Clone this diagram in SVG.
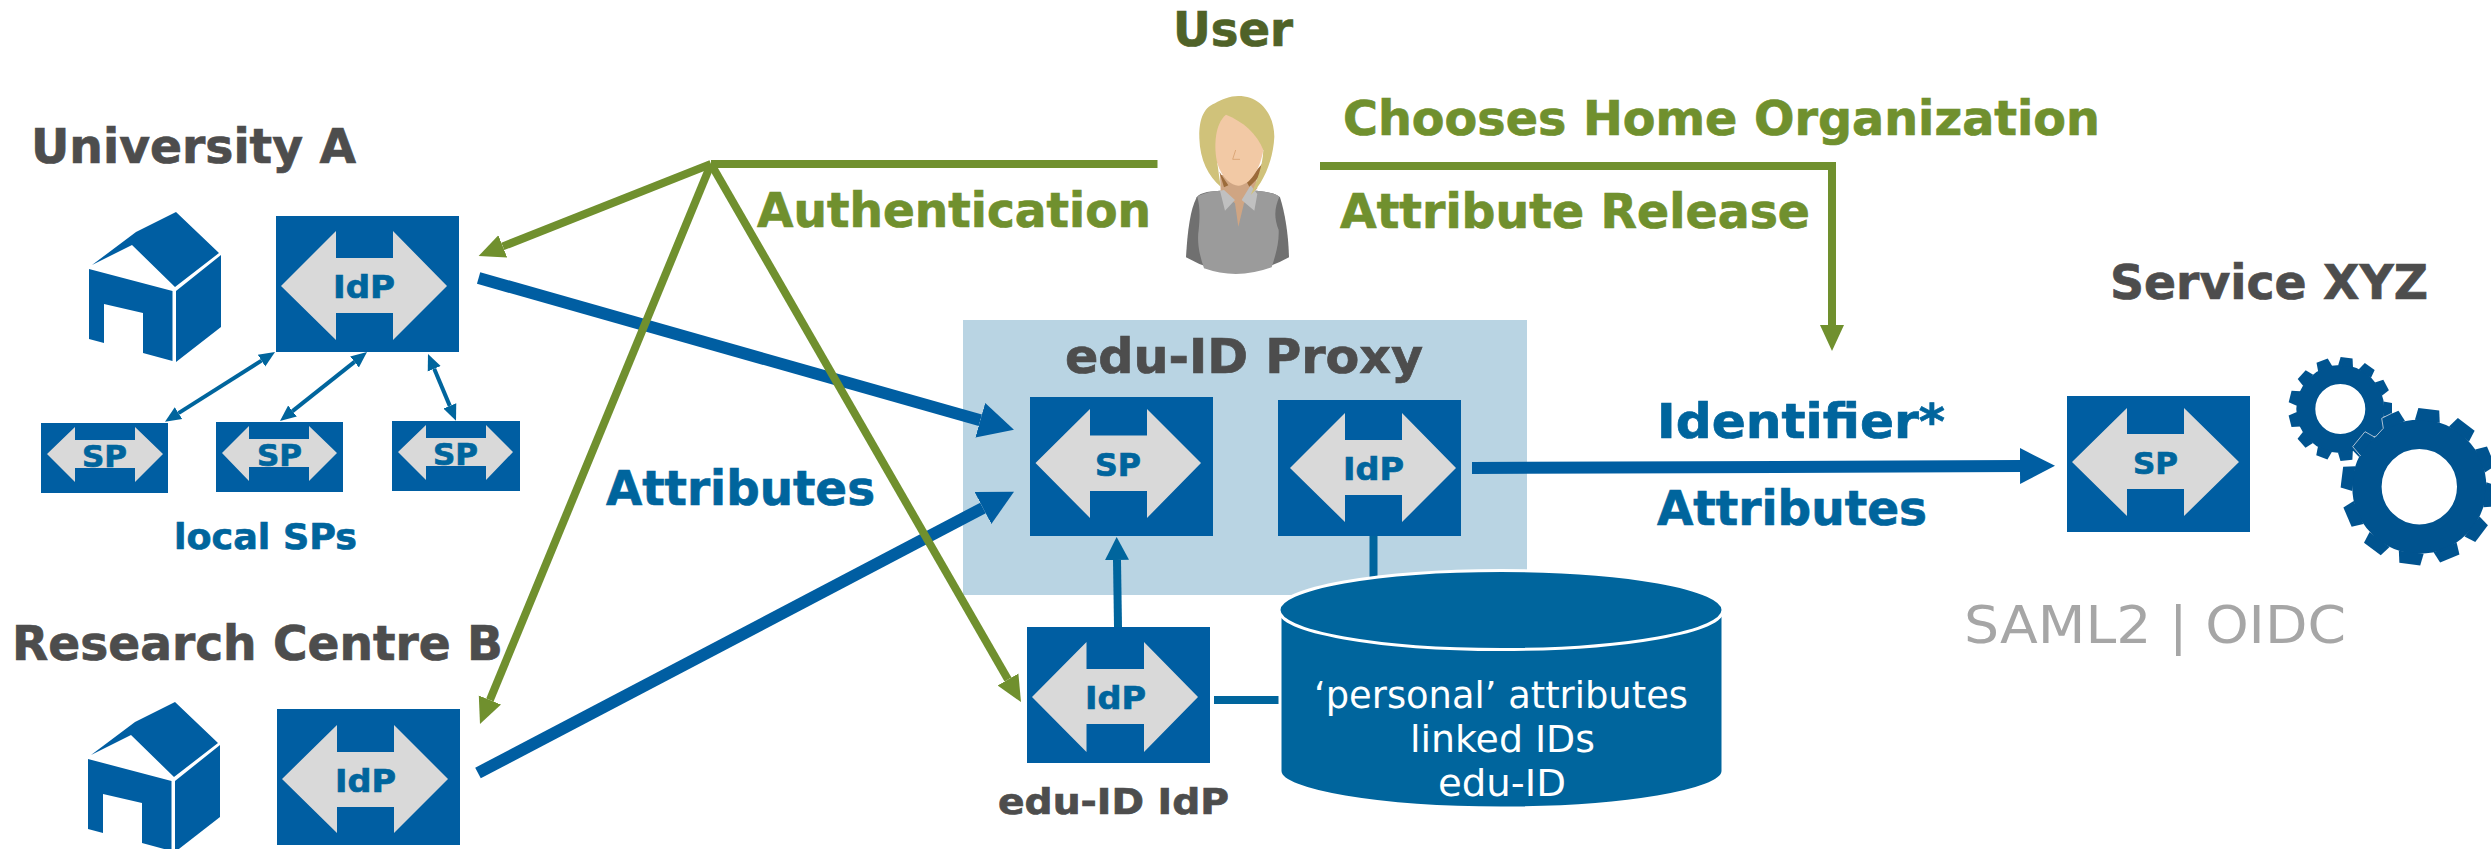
<svg xmlns="http://www.w3.org/2000/svg" width="2491" height="849" viewBox="0 0 2491 849">
<style>
text{font-family:"DejaVu Sans","Liberation Sans",sans-serif;font-weight:700;stroke-width:.7}
.box{fill:#005ea2}
.arr{fill:#d9d9d9}
.lab{fill:#00659d;stroke:#00659d}
.dark{fill:#4d4d4d;stroke:#4d4d4d;font-size:48px}
.green{fill:#70902e;stroke:#70902e;font-size:48px}
.blue{fill:#00659d;stroke:#00659d;font-size:48px}
.cyl{fill:#fff;font-weight:400;font-size:38px}
.g{stroke:#70902e;stroke-width:8;fill:none}
.b{stroke:#005ea2;stroke-width:12;fill:none}
.s{stroke:#00659d;stroke-width:4;fill:none}
.m{stroke:#00659d;stroke-width:8;fill:none}
.gear{fill:none;stroke:#00538f}
.tooth{fill:#00538f}
</style>
<defs>
<marker id="ag" markerUnits="userSpaceOnUse" markerWidth="30" markerHeight="30" refX="0" refY="15" orient="auto"><path d="M0,3L26,15L0,27z" fill="#70902e"/></marker>
<marker id="ab" markerUnits="userSpaceOnUse" markerWidth="40" markerHeight="40" refX="0" refY="20" orient="auto"><path d="M0,2L35,20L0,38z" fill="#005ea2"/></marker>
<marker id="am" markerUnits="userSpaceOnUse" markerWidth="26" markerHeight="26" refX="0" refY="13" orient="auto"><path d="M0,1L23,13L0,25z" fill="#00659d"/></marker>
<marker id="as" markerUnits="userSpaceOnUse" markerWidth="18" markerHeight="18" refX="0" refY="9" orient="auto-start-reverse"><path d="M0,2L16,9L0,16z" fill="#00659d"/></marker>
<g id="house" fill="#005ea2">
<path d="M92,265L136,232L176,212L219,253L175,287L132,245z"/>
<path d="M89,269L172.500,291L172.500,361L143,353V313L104,304V343L89,339z"/>
<path d="M176,291L221,255V327L176,362z"/>
</g>
<path id="t1" class="tooth" d="M-7.500,-43L-6,-51.700H6L7.500,-43z"/>
<path id="t2" class="tooth" d="M-12.500,-66L-10.500,-78H10.500L12.500,-66z"/>
</defs>

<rect id="proxy-bg" x="963" y="320" width="564" height="275" fill="#b9d4e3"/>
<text class="dark" x="1065" y="373" textLength="358" lengthAdjust="spacingAndGlyphs">edu-ID Proxy</text>

<g id="connectors">
<path class="b" d="M478.600,278L980.300,420.300" marker-end="url(#ab)"/>
<path class="b" d="M478,773L983,508" marker-end="url(#ab)"/>
<path class="b" d="M1472,468L2020,466" marker-end="url(#ab)"/>
<path class="g" d="M711,164H1157.500"/>
<path class="g" d="M1320,166H1832V325" marker-end="url(#ag)"/>
<path class="g" d="M711,164L502.800,246.400" marker-end="url(#ag)"/>
<path class="g" d="M711,164L489.900,700" marker-end="url(#ag)"/>
<path class="g" d="M711,164L1008,679.500" marker-end="url(#ag)"/>
<path class="m" d="M1118,627L1117,560" marker-end="url(#am)"/>
<path class="m" d="M1373.500,536V580"/>
<path class="m" d="M1214,700H1285"/>
<path class="s" d="M261.500,360.600L178.500,413.100" marker-start="url(#as)" marker-end="url(#as)"/>
<path class="s" d="M354.500,361.900L292.500,411.100" marker-start="url(#as)" marker-end="url(#as)"/>
<path class="s" d="M434.200,368.800L449.800,405.900" marker-start="url(#as)" marker-end="url(#as)"/>
</g>

<g id="university-a">
<text class="dark" x="31" y="163" textLength="325" lengthAdjust="spacingAndGlyphs">University A</text>
<use href="#house"/>
<rect class="box" x="276" y="216" width="183" height="136"/>
<path class="arr" d="M281,286L336,231V258H393V231L447,286L393,340V313H336V340z"/>
<text class="lab" x="333" y="298" font-size="32" textLength="62" lengthAdjust="spacingAndGlyphs">IdP</text>
</g>
<g id="local-sp-1">
<rect class="box" x="41" y="423" width="127" height="70"/>
<path class="arr" d="M47,454L75,427V440H135V427L163,454L135,482V468H75V482z"/>
<text class="lab" x="82" y="467" font-size="31" textLength="45" lengthAdjust="spacingAndGlyphs">SP</text>
</g>
<g id="local-sp-2">
<rect class="box" x="216" y="422" width="127" height="70"/>
<path class="arr" d="M222,453L249,426V439H309V426L337,453L309,481V467H249V481z"/>
<text class="lab" x="257" y="466" font-size="31" textLength="45" lengthAdjust="spacingAndGlyphs">SP</text>
</g>
<g id="local-sp-3">
<rect class="box" x="392" y="421" width="128" height="70"/>
<path class="arr" d="M398,452L426,425V438H486V425L513,452L486,480V466H426V480z"/>
<text class="lab" x="433" y="465" font-size="31" textLength="45" lengthAdjust="spacingAndGlyphs">SP</text>
</g>
<text class="lab" x="174" y="549" font-size="36" textLength="183" lengthAdjust="spacingAndGlyphs">local SPs</text>

<g id="research-centre-b">
<text class="dark" x="12" y="660" textLength="491" lengthAdjust="spacingAndGlyphs">Research Centre B</text>
<use href="#house" transform="translate(-1,490)"/>
<rect class="box" x="277" y="709" width="183" height="136"/>
<path class="arr" d="M282,779L337,725V752H394V725L448,779L394,833V807H337V833z"/>
<text class="lab" x="335" y="792" font-size="32" textLength="61" lengthAdjust="spacingAndGlyphs">IdP</text>
</g>

<g id="user">
<text x="1173" y="46" font-size="48" fill="#4f6228" stroke="#4f6228" textLength="120" lengthAdjust="spacingAndGlyphs">User</text>
<g transform="translate(1100,0) scale(.33333)">
<path fill="#707070" d="M258,772C262,700 270,630 290,592C300,575 340,573 360,572H470C500,575 530,580 540,592C555,640 565,700 567,772Q410,860 258,772z"/>
<path fill="#9b9b9b" d="M292,590C310,578 340,573 360,572H470C495,575 520,578 538,590C525,620 520,650 536,690C538,730 525,770 515,802Q410,840 312,805C300,770 290,730 296,690C300,650 300,620 292,590z"/>
<path fill="#cfa583" d="M360,525H468L472,565L432,610L415,680L405,610L362,572z"/>
<path fill="#c0c0c0" d="M360,572L375,632L405,600L372,570zM452,556L472,582L463,632L425,600z"/>
<path fill="#9c6b3a" d="M358,515L385,556L372,562zM488,490L478,530L448,560L440,545z"/>
<path fill="#d0c27a" d="M345,310C305,325 297,370 298,415C300,480 325,530 362,560L352,490L490,450C488,500 470,545 452,585C490,550 520,480 523,410C522,340 480,288 415,288C390,288 365,298 345,310z"/>
<path fill="#f2c9a5" d="M378,344C345,370 340,440 352,490C365,535 395,557 415,557C450,555 480,510 490,450C470,400 430,365 378,344z"/>
<path fill="none" stroke="#dca878" stroke-width="3" d="M407,450L398,478H420"/>
</g>
</g>

<text class="green" x="757" y="227" textLength="394" lengthAdjust="spacingAndGlyphs">Authentication</text>
<text class="green" x="1343" y="135" textLength="757" lengthAdjust="spacingAndGlyphs">Chooses Home Organization</text>
<text class="green" x="1340" y="228" textLength="470" lengthAdjust="spacingAndGlyphs">Attribute Release</text>
<text class="blue" x="606" y="505" textLength="269" lengthAdjust="spacingAndGlyphs">Attributes</text>
<text class="blue" x="1657" y="438" textLength="288" lengthAdjust="spacingAndGlyphs">Identifier*</text>
<text class="blue" x="1657" y="525" textLength="270" lengthAdjust="spacingAndGlyphs">Attributes</text>

<g id="proxy-sp">
<rect class="box" x="1030" y="397" width="183" height="139"/>
<path class="arr" d="M1035.500,463L1090,409V435.500H1147V409L1201,463L1147,518V491H1090V518z"/>
<text class="lab" x="1095" y="476" font-size="32" textLength="46" lengthAdjust="spacingAndGlyphs">SP</text>
</g>
<g id="proxy-idp">
<rect class="box" x="1278" y="400" width="183" height="136"/>
<path class="arr" d="M1290,468L1345,413V440H1402V413L1456,468L1402,522V495H1345V522z"/>
<text class="lab" x="1343" y="480" font-size="32" textLength="61" lengthAdjust="spacingAndGlyphs">IdP</text>
</g>
<g id="edu-id-idp">
<rect class="box" x="1027" y="627" width="183" height="136"/>
<path class="arr" d="M1032,697L1086.500,642V669H1144V642L1198,697L1144,752V724H1086.500V752z"/>
<text class="lab" x="1085" y="709" font-size="32" textLength="61" lengthAdjust="spacingAndGlyphs">IdP</text>
<text x="998" y="814" font-size="35" fill="#4d4d4d" stroke="#4d4d4d" textLength="231" lengthAdjust="spacingAndGlyphs">edu-ID IdP</text>
</g>
<g id="database">
<path fill="#00659d" stroke="#fff" stroke-width="3" d="M1280,610V771C1280,791 1380,808 1501,808C1622,808 1723,791 1723,771V610z"/>
<ellipse cx="1501" cy="610" rx="222" ry="39.500" fill="#00659d" stroke="#fff" stroke-width="3"/>
<text class="cyl" x="1501" y="708" text-anchor="middle" textLength="374" lengthAdjust="spacingAndGlyphs">‘personal’ attributes</text>
<text class="cyl" x="1502.500" y="752" text-anchor="middle" textLength="185" lengthAdjust="spacingAndGlyphs">linked IDs</text>
<text class="cyl" x="1502" y="796" text-anchor="middle" textLength="128" lengthAdjust="spacingAndGlyphs">edu-ID</text>
</g>

<g id="service-xyz">
<text class="dark" x="2110" y="299" textLength="318" lengthAdjust="spacingAndGlyphs">Service XYZ</text>
<rect class="box" x="2067" y="396" width="183" height="136"/>
<path class="arr" d="M2072,462L2127,408V434H2184V408L2239,462L2184,516V489H2127V516z"/>
<text class="lab" x="2133" y="474" font-size="31" textLength="45" lengthAdjust="spacingAndGlyphs">SP</text>
<circle class="gear" cx="2340.300" cy="409" r="34.500" stroke-width="19"/>
<g transform="translate(2340.300,409)">
<use href="#t1" transform="rotate(7)"/><use href="#t1" transform="rotate(34.700)"/><use href="#t1" transform="rotate(62.400)"/><use href="#t1" transform="rotate(90.100)"/><use href="#t1" transform="rotate(117.800)"/><use href="#t1" transform="rotate(145.500)"/><use href="#t1" transform="rotate(173.200)"/><use href="#t1" transform="rotate(200.900)"/><use href="#t1" transform="rotate(228.600)"/><use href="#t1" transform="rotate(256.300)"/><use href="#t1" transform="rotate(284)"/><use href="#t1" transform="rotate(311.700)"/><use href="#t1" transform="rotate(339.400)"/>
</g>
<circle class="gear" cx="2419.300" cy="486.700" r="52.350" stroke-width="29.300"/>
<g transform="translate(2419.300,486.700)">
<use href="#t2" transform="rotate(7)"/><use href="#t2" transform="rotate(37)"/><use href="#t2" transform="rotate(67)"/><use href="#t2" transform="rotate(97)"/><use href="#t2" transform="rotate(127)"/><use href="#t2" transform="rotate(157)"/><use href="#t2" transform="rotate(187)"/><use href="#t2" transform="rotate(217)"/><use href="#t2" transform="rotate(247)"/><use href="#t2" transform="rotate(277)"/><use href="#t2" transform="rotate(307)"/><use href="#t2" transform="rotate(337)"/>
</g>
<path fill="none" stroke="#a9c0d4" stroke-width="1" d="M2391.700,413.300L2381.700,418.300L2383.300,428.300L2375,437.300L2365,431.700L2352.700,446.700L2360.700,456"/>
<text x="1964" y="643" font-size="52" fill="#a6a6a6" style="font-weight:400" textLength="382" lengthAdjust="spacingAndGlyphs">SAML2 | OIDC</text>
</g>
</svg>
